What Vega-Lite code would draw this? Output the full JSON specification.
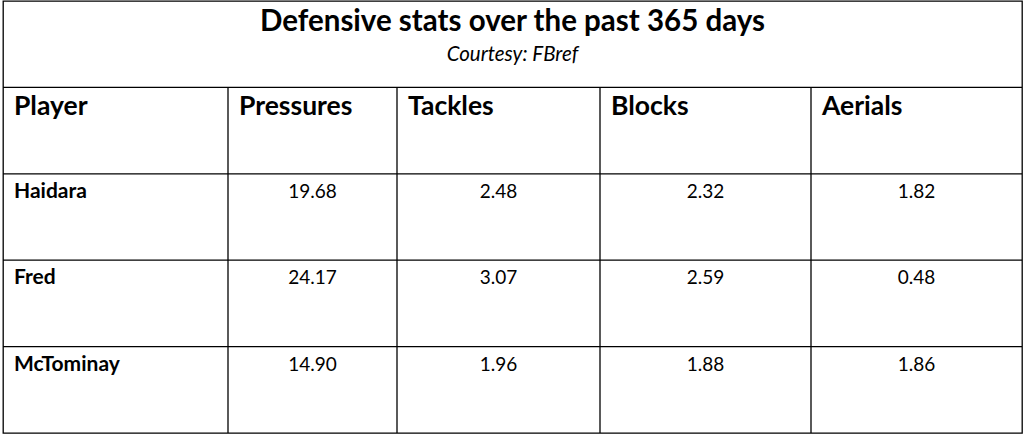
{
  "$schema": "https://vega.github.io/schema/vega-lite/v6.json",
  "width": 1019,
  "height": 432,
  "autosize": {"type": "none"},
  "padding": {"left": 3, "top": 1, "right": 4, "bottom": 4},
  "background": "white",
  "title": {
    "text": "Defensive stats over the past 365 days",
    "subtitle": "Courtesy: FBref",
    "anchor": "middle",
    "frame": "group",
    "font": "Lato",
    "fontSize": 29.5,
    "fontWeight": "bold",
    "color": "black",
    "subtitleFont": "Lato",
    "subtitleFontSize": 20.5,
    "subtitleFontStyle": "italic",
    "subtitleColor": "black",
    "subtitlePadding": 7.5,
    "offset": -65
  },
  "datasets": {
    "players": [
      {"Player": "Haidara", "Pressures": 19.68, "Tackles": 2.48, "Blocks": 2.32, "Aerials": 1.82},
      {"Player": "Fred", "Pressures": 24.17, "Tackles": 3.07, "Blocks": 2.59, "Aerials": 0.48},
      {"Player": "McTominay", "Pressures": 14.90, "Tackles": 1.96, "Blocks": 1.88, "Aerials": 1.86}
    ],
    "columns": [
      {"column": "Player", "index": 0},
      {"column": "Pressures", "index": 1},
      {"column": "Tackles", "index": 2},
      {"column": "Blocks", "index": 3},
      {"column": "Aerials", "index": 4}
    ]
  },
  "layer": [
    {
      "data": {"name": "players"},
      "mark": {"type": "rule", "color": "black", "strokeWidth": 1.3},
      "encoding": {
        "y": {"field": "Player", "type": "nominal", "bandPosition": 0,
              "scale": {"domain": ["title", "header", "Haidara", "Fred", "McTominay"], "paddingInner": 0, "paddingOuter": 0},
              "axis": null},
        "x": {"datum": 0, "type": "quantitative", "scale": {"domain": [0, 1, 2, 3, 4, 5], "range": [0, 225, 394, 597, 808, 1019]}, "axis": null},
        "x2": {"datum": 5}
      }
    },
    {
      "data": {"values": [{}]},
      "mark": {"type": "rule", "color": "black", "strokeWidth": 1.3},
      "encoding": {
        "y": {"datum": "header", "type": "nominal", "bandPosition": 0, "axis": null},
        "x": {"datum": 0, "type": "quantitative", "scale": {"domain": [0, 1, 2, 3, 4, 5], "range": [0, 225, 394, 597, 808, 1019]}, "axis": null},
        "x2": {"datum": 5}
      }
    },
    {
      "data": {"name": "columns"},
      "transform": [{"filter": "datum.index > 0"}],
      "mark": {"type": "rule", "color": "black", "strokeWidth": 1.3},
      "encoding": {
        "x": {"field": "index", "type": "quantitative", "scale": {"domain": [0, 1, 2, 3, 4, 5], "range": [0, 225, 394, 597, 808, 1019]}, "axis": null},
        "y": {"datum": "header", "type": "nominal", "bandPosition": 0, "axis": null},
        "y2": {"value": "height"}
      }
    },
    {
      "data": {"name": "columns"},
      "mark": {"type": "text", "align": "left", "baseline": "alphabetic", "dx": 11, "dy": 28, "font": "Lato", "fontSize": 26.5, "fontWeight": "bold", "color": "black"},
      "encoding": {
        "x": {"field": "index", "type": "quantitative", "scale": {"domain": [0, 1, 2, 3, 4, 5], "range": [0, 225, 394, 597, 808, 1019]}, "axis": null},
        "y": {"datum": "header", "type": "nominal", "bandPosition": 0, "axis": null},
        "text": {"field": "column"}
      }
    },
    {
      "data": {"name": "players"},
      "mark": {"type": "text", "align": "left", "baseline": "alphabetic", "dx": 11, "dy": 24, "font": "Lato", "fontSize": 21, "fontWeight": "bold", "color": "black"},
      "encoding": {
        "x": {"datum": 0, "type": "quantitative", "scale": {"domain": [0, 1, 2, 3, 4, 5], "range": [0, 225, 394, 597, 808, 1019]}, "axis": null},
        "y": {"field": "Player", "type": "nominal", "bandPosition": 0, "axis": null},
        "text": {"field": "Player"}
      }
    },
    {
      "data": {"name": "players"},
      "transform": [
        {"fold": ["Pressures", "Tackles", "Blocks", "Aerials"], "as": ["column", "value"]},
        {"lookup": "column", "from": {"data": {"name": "columns"}, "key": "column", "fields": ["index"]}}
      ],
      "mark": {"type": "text", "align": "center", "baseline": "alphabetic", "dy": 24, "font": "Lato", "fontSize": 19, "color": "black"},
      "encoding": {
        "x": {"field": "index", "type": "quantitative", "scale": {"domain": [1, 2, 3, 4], "range": [309.5, 495.5, 702.5, 913.5]}, "axis": null},
        "y": {"field": "Player", "type": "nominal", "bandPosition": 0, "axis": null},
        "text": {"field": "value", "type": "quantitative", "format": ".2f"}
      }
    }
  ],
  "resolve": {"scale": {"x": "independent"}},
  "config": {
    "view": {"stroke": "black", "strokeWidth": 1.3}
  }
}
